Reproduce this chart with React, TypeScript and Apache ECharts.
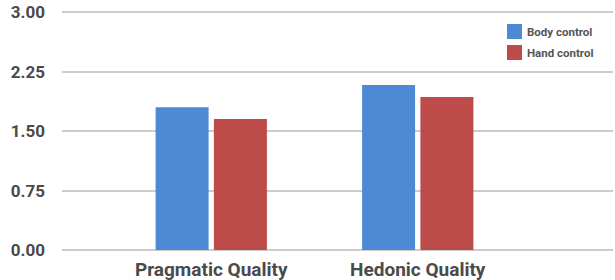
import React, { useEffect, useRef } from "react";
import * as echarts from "echarts";

const categories = ["Pragmatic Quality", "Hedonic Quality"];
const bodyControl = [1.8, 2.08];
const handControl = [1.65, 1.93];
const seriesNames = ["Body control", "Hand control"];
const yMin = 0;
const yMax = 3;
const yStep = 0.75;

export default function App() {
  const ref = useRef<HTMLDivElement>(null);
  useEffect(() => {
    if (!ref.current) return;
    const chart = echarts.init(ref.current, null, { renderer: "svg" });
    const labelColor = "#4a4a4a";
    chart.setOption({
      animation: false,
      textStyle: { fontFamily: "Roboto" },
      grid: [
        { left: 62, right: 2, top: 12, bottom: 30 },
        { left: 108, right: 94, top: 12, bottom: 30 },
      ],
      legend: {
        orient: "vertical",
        left: 507,
        top: 24,
        icon: "rect",
        itemWidth: 15,
        itemHeight: 15,
        itemGap: 6,
        padding: 0,
        data: seriesNames,
        textStyle: { fontSize: 11.5, fontWeight: "bold", color: "#555", fontFamily: "Roboto" },
      },
      xAxis: [
        { type: "value", gridIndex: 0, show: false, min: 0, max: 1 },
        {
          type: "category",
          gridIndex: 1,
          data: categories,
          axisLine: { show: false },
          axisTick: { show: false },
          axisLabel: {
            fontSize: 19,
            fontWeight: "bold",
            color: labelColor,
            margin: 10,
            fontFamily: "Roboto",
          },
        },
      ],
      yAxis: [
        {
          type: "value",
          gridIndex: 0,
          min: yMin,
          max: yMax,
          interval: yStep,
          axisLine: { show: false },
          axisTick: { show: false },
          axisLabel: {
            fontSize: 17,
            fontWeight: "bold",
            color: labelColor,
            margin: 17,
            fontFamily: "Roboto",
            formatter: (v: number) => v.toFixed(2),
          },
          splitLine: { lineStyle: { color: "#cccccc", width: 2 } },
        },
        { type: "value", gridIndex: 1, min: yMin, max: yMax, show: false },
      ],
      series: [
        {
          name: seriesNames[0],
          type: "bar",
          xAxisIndex: 1,
          yAxisIndex: 1,
          data: bodyControl,
          barWidth: 53,
          barGap: "10%",
          itemStyle: { color: "#4d8ad3" },
        },
        {
          name: seriesNames[1],
          type: "bar",
          xAxisIndex: 1,
          yAxisIndex: 1,
          data: handControl,
          barWidth: 53,
          barGap: "10%",
          itemStyle: { color: "#bd4b49" },
        },
      ],
    });
    return () => chart.dispose();
  }, []);
  return <div ref={ref} style={{ width: 615, height: 280, position: "absolute", left: 0, top: 0 }} />;
}
